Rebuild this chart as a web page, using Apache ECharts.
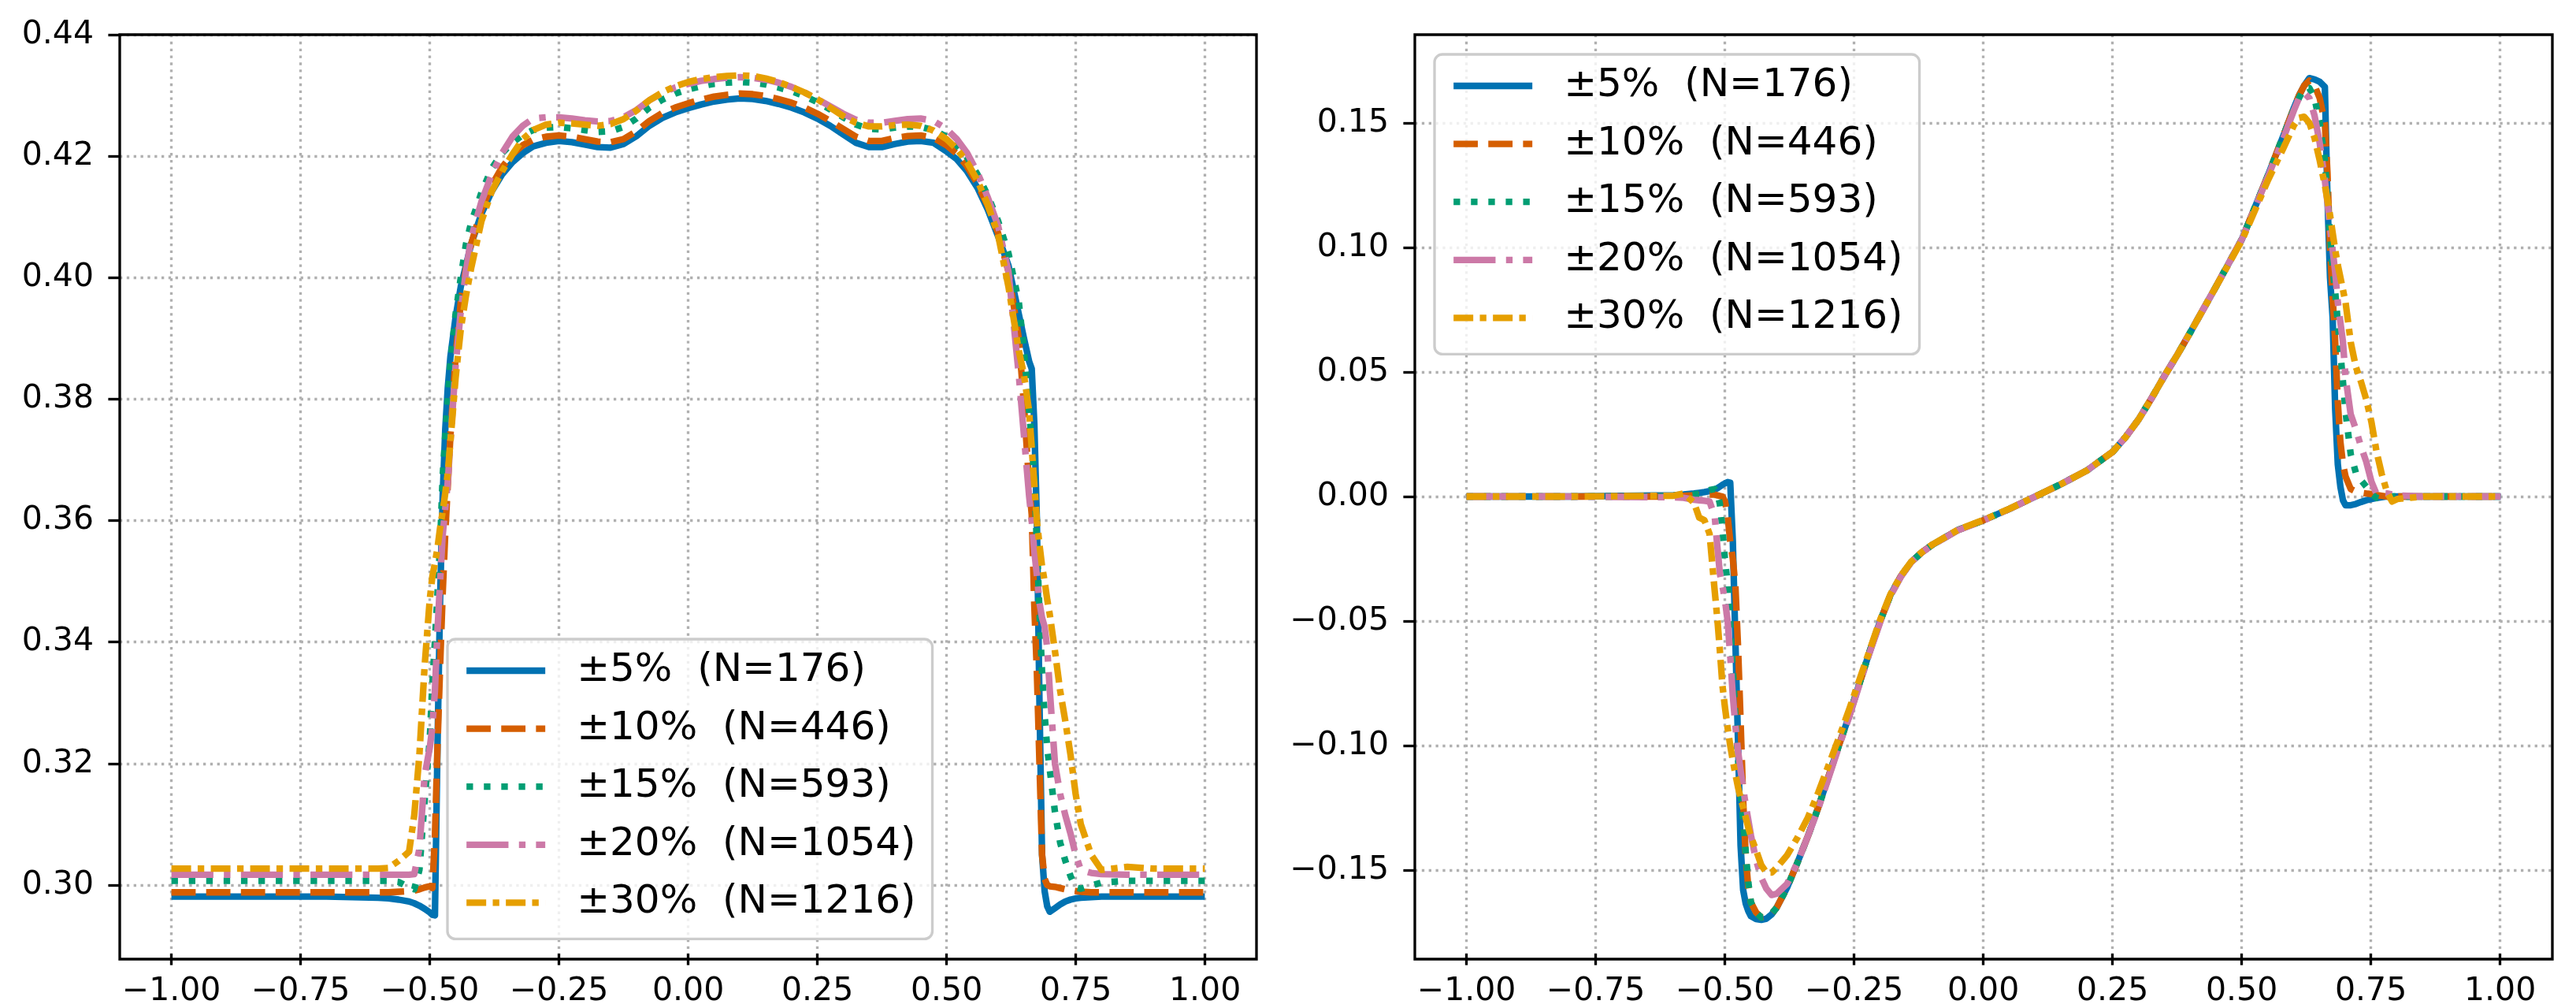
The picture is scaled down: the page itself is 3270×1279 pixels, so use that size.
<!DOCTYPE html>
<html>
<head>
<meta charset="utf-8">
<title>profiles</title>
<script src="https://cdn.jsdelivr.net/npm/echarts@6/dist/echarts.min.js"></script>
<style>
  html, body { margin: 0; padding: 0; background: #fff; }
  #main { width: 3270px; height: 1279px; }
</style>
</head>
<body>
<div id="main"></div>
<script>
// legend labels
var names = ['±5%  (N=176)', '±10%  (N=446)', '±15%  (N=593)', '±20%  (N=1054)', '±30%  (N=1216)'];

// left panel
var leftX = [-1.0, -0.9, -0.8, -0.7, -0.65, -0.6, -0.58, -0.56, -0.54, -0.53,
  -0.52, -0.51, -0.50, -0.495, -0.49, -0.485, -0.48, -0.475, -0.47, -0.465,
  -0.46, -0.45, -0.44, -0.43, -0.42, -0.40, -0.38, -0.36, -0.34, -0.32,
  -0.30, -0.275, -0.25, -0.225, -0.20, -0.175, -0.15, -0.125, -0.10, -0.075,
  -0.05, -0.025, 0.0, 0.025, 0.05, 0.075, 0.10, 0.125, 0.15, 0.175,
  0.20, 0.225, 0.25, 0.275, 0.30, 0.325, 0.35, 0.375, 0.40, 0.425,
  0.45, 0.475, 0.50, 0.52, 0.54, 0.56, 0.58, 0.60, 0.62, 0.64,
  0.65, 0.66, 0.665, 0.67, 0.675, 0.68, 0.685, 0.69, 0.695, 0.70,
  0.71, 0.72, 0.73, 0.74, 0.75, 0.76, 0.78, 0.80, 0.85, 0.90, 1.0];

var left5 = [0.2981, 0.2981, 0.2981, 0.2981, 0.2980, 0.2979, 0.2978, 0.2976, 0.2973, 0.2970,
  0.2966, 0.2961, 0.2955, 0.2951, 0.2950, 0.3230, 0.3470, 0.3640, 0.3750, 0.3820,
  0.3870, 0.3935, 0.3985, 0.4020, 0.4055, 0.4105, 0.4142, 0.4170, 0.4190, 0.4205,
  0.4216, 0.4222, 0.4225, 0.4223, 0.4219, 0.4215, 0.4214, 0.4220, 0.4233, 0.4250,
  0.4263, 0.4272, 0.4279, 0.4285, 0.4290, 0.4293, 0.4295, 0.4294, 0.4291, 0.4286,
  0.4280, 0.4272, 0.4262, 0.4250, 0.4236, 0.4222, 0.4215, 0.4215, 0.4220, 0.4224,
  0.4225, 0.4222, 0.4208, 0.4195, 0.4175, 0.4148, 0.4112, 0.4068, 0.4020, 0.3940,
  0.3900, 0.3862, 0.3850, 0.3760, 0.3600, 0.3300, 0.3050, 0.2990, 0.2965, 0.2956,
  0.2962, 0.2968, 0.2973, 0.2976, 0.2978, 0.2979, 0.2980, 0.2981, 0.2981, 0.2981, 0.2981];

var left10 = [0.2988, 0.2988, 0.2988, 0.2988, 0.2988, 0.2988, 0.2988, 0.2989, 0.2990, 0.2991,
  0.2993, 0.2996, 0.2998, 0.2995, 0.3080, 0.3230, 0.3360, 0.3480, 0.3580, 0.3660,
  0.3740, 0.3870, 0.3960, 0.4015, 0.4055, 0.4112, 0.4152, 0.4182, 0.4203, 0.4218,
  0.4227, 0.4232, 0.4234, 0.4232, 0.4228, 0.4224, 0.4223, 0.4228, 0.4241, 0.4258,
  0.4271, 0.4280, 0.4287, 0.4293, 0.4298, 0.4301, 0.4303, 0.4302, 0.4299, 0.4294,
  0.4288, 0.4280, 0.4270, 0.4258, 0.4245, 0.4232, 0.4225, 0.4225, 0.4230, 0.4233,
  0.4234, 0.4230, 0.4218, 0.4204, 0.4183, 0.4155, 0.4118, 0.4073, 0.4010, 0.3900,
  0.3790, 0.3660, 0.3610, 0.3460, 0.3350, 0.3200, 0.3050, 0.3010, 0.3000, 0.2998,
  0.2997, 0.2995, 0.2993, 0.2991, 0.2990, 0.2989, 0.2988, 0.2988, 0.2988, 0.2988, 0.2988];

var left15 = [0.3007, 0.3007, 0.3007, 0.3007, 0.3007, 0.3007, 0.3007, 0.3005, 0.2996, 0.2993,
  0.3025, 0.3139, 0.3240, 0.3330, 0.3401, 0.3480, 0.3560, 0.3673, 0.3740, 0.3800,
  0.3860, 0.3940, 0.4000, 0.4055, 0.4090, 0.4140, 0.4180, 0.4205, 0.4222, 0.4235,
  0.4243, 0.4247, 0.4248, 0.4246, 0.4243, 0.4240, 0.4241, 0.4248, 0.4262, 0.4280,
  0.4293, 0.4303, 0.4310, 0.4315, 0.4319, 0.4321, 0.4322, 0.4321, 0.4318, 0.4313,
  0.4307, 0.4299, 0.4289, 0.4277, 0.4264, 0.4252, 0.4245, 0.4244, 0.4247, 0.4249,
  0.4248, 0.4243, 0.4232, 0.4218, 0.4198, 0.4170, 0.4135, 0.4093, 0.4040, 0.3960,
  0.3880, 0.3780, 0.3730, 0.3670, 0.3560, 0.3450, 0.3350, 0.3280, 0.3225, 0.3190,
  0.3120, 0.3070, 0.3040, 0.3015, 0.2996, 0.2994, 0.2999, 0.3004, 0.3007, 0.3007, 0.3007];

var left20 = [0.3017, 0.3017, 0.3017, 0.3017, 0.3017, 0.3017, 0.3017, 0.3017, 0.3017, 0.3018,
  0.3060, 0.3180, 0.3226, 0.3260, 0.3320, 0.3420, 0.3500, 0.3576, 0.3620, 0.3665,
  0.3730, 0.3855, 0.3945, 0.4010, 0.4065, 0.4125, 0.4170, 0.4205, 0.4232, 0.4250,
  0.4262, 0.4264, 0.4264, 0.4262, 0.4259, 0.4257, 0.4258, 0.4264, 0.4276, 0.4292,
  0.4304, 0.4313, 0.4319, 0.4324, 0.4327, 0.4329, 0.4330, 0.4329, 0.4326, 0.4321,
  0.4314, 0.4305, 0.4294, 0.4282, 0.4270, 0.4260, 0.4255, 0.4255, 0.4258, 0.4261,
  0.4262, 0.4258, 0.4245, 0.4228, 0.4205, 0.4173, 0.4132, 0.4085, 0.4010, 0.3840,
  0.3740, 0.3640, 0.3600, 0.3550, 0.3510, 0.3465, 0.3440, 0.3425, 0.3390, 0.3320,
  0.3200, 0.3150, 0.3115, 0.3085, 0.3050, 0.3025, 0.3020, 0.3018, 0.3017, 0.3017, 0.3017];

var left30 = [0.3027, 0.3027, 0.3027, 0.3027, 0.3027, 0.3027, 0.3028, 0.3040, 0.3055, 0.3115,
  0.3215, 0.3360, 0.3470, 0.3508, 0.3530, 0.3555, 0.3588, 0.3615, 0.3645, 0.3680,
  0.3730, 0.3835, 0.3915, 0.3970, 0.4015, 0.4093, 0.4142, 0.4175, 0.4203, 0.4228,
  0.4243, 0.4252, 0.4255, 0.4254, 0.4252, 0.4250, 0.4253, 0.4261, 0.4275, 0.4292,
  0.4305, 0.4315, 0.4322, 0.4327, 0.4330, 0.4332, 0.4333, 0.4332, 0.4328, 0.4322,
  0.4314, 0.4305, 0.4294, 0.4280, 0.4266, 0.4255, 0.4249, 0.4249, 0.4251, 0.4252,
  0.4250, 0.4242, 0.4228, 0.4212, 0.4190, 0.4160, 0.4120, 0.4070, 0.3985, 0.3880,
  0.3840, 0.3780, 0.3720, 0.3660, 0.3600, 0.3560, 0.3525, 0.3500, 0.3470, 0.3445,
  0.3385, 0.3320, 0.3270, 0.3215, 0.3150, 0.3100, 0.3050, 0.3025, 0.3030, 0.3027, 0.3027];

// right panel
var rightX = [-1.0, -0.8, -0.6, -0.58, -0.56, -0.55, -0.54, -0.53, -0.52, -0.515,
  -0.51, -0.505, -0.50, -0.495, -0.49, -0.485, -0.48, -0.475, -0.47, -0.465,
  -0.46, -0.455, -0.45, -0.44, -0.43, -0.42, -0.41, -0.40, -0.38, -0.36,
  -0.34, -0.32, -0.30, -0.28, -0.26, -0.24, -0.22, -0.20, -0.18, -0.16,
  -0.14, -0.12, -0.10, -0.05, 0.0, 0.05, 0.10, 0.15, 0.20, 0.25,
  0.275, 0.30, 0.325, 0.35, 0.375, 0.40, 0.45, 0.50, 0.55, 0.58, 0.60, 0.61, 0.62,
  0.63, 0.64, 0.65, 0.66, 0.665, 0.67, 0.675, 0.68, 0.685, 0.69,
  0.695, 0.70, 0.71, 0.72, 0.73, 0.74, 0.75, 0.76, 0.77, 0.78,
  0.79, 0.80, 0.85, 0.90, 1.0];

var right5 = [0.0000, 0.0000, 0.0005, 0.0008, 0.0012, 0.0015, 0.0018, 0.0022, 0.0028, 0.0033,
  0.0040, 0.0047, 0.0053, 0.0058, 0.0055, -0.0180, -0.0580, -0.0980, -0.1400, -0.1580,
  -0.1635, -0.1665, -0.1685, -0.1697, -0.1700, -0.1695, -0.1678, -0.1650, -0.1570, -0.1470,
  -0.1365, -0.1250, -0.1125, -0.1000, -0.0880, -0.0750, -0.0620, -0.0500, -0.0395, -0.0320,
  -0.0263, -0.0225, -0.0195, -0.0135, -0.0095, -0.0050, 0.0000, 0.0050, 0.0105, 0.0180,
  0.0240, 0.0310, 0.0395, 0.0485, 0.0570, 0.0660, 0.0845, 0.1035, 0.1290, 0.1450, 0.1560, 0.1610, 0.1650,
  0.1680, 0.1675, 0.1665, 0.1645, 0.1200, 0.0880, 0.0720, 0.0350, 0.0130, 0.0040,
  -0.0015, -0.0035, -0.0035, -0.0030, -0.0022, -0.0015, -0.0010, -0.0006, -0.0003, 0.0000,
  0.0000, 0.0000, 0.0000, 0.0000, 0.0000];

var right10 = [0.0000, 0.0000, 0.0000, 0.0003, 0.0005, 0.0006, 0.0007, 0.0008, 0.0008, 0.0005,
  0.0002, 0.0000, -0.0020, -0.0080, -0.0180, -0.0250, -0.0360, -0.0600, -0.0900, -0.1220,
  -0.1450, -0.1570, -0.1630, -0.1670, -0.1690, -0.1688, -0.1675, -0.1650, -0.1570, -0.1470,
  -0.1365, -0.1250, -0.1125, -0.1000, -0.0880, -0.0750, -0.0620, -0.0500, -0.0395, -0.0320,
  -0.0263, -0.0225, -0.0195, -0.0135, -0.0095, -0.0050, 0.0000, 0.0050, 0.0105, 0.0180,
  0.0240, 0.0310, 0.0395, 0.0485, 0.0570, 0.0660, 0.0845, 0.1035, 0.1290, 0.1450, 0.1560, 0.1610, 0.1650,
  0.1670, 0.1650, 0.1600, 0.1500, 0.1300, 0.1000, 0.0800, 0.0620, 0.0380, 0.0220,
  0.0130, 0.0080, 0.0030, 0.0020, 0.0015, 0.0012, 0.0010, 0.0006, 0.0003, 0.0000,
  0.0000, 0.0000, 0.0000, 0.0000, 0.0000];

var right15 = [0.0000, 0.0000, 0.0000, 0.0003, 0.0008, 0.0012, 0.0018, 0.0026, 0.0030, 0.0015,
  -0.0030, -0.0130, -0.0260, -0.0350, -0.0530, -0.0690, -0.0890, -0.1050, -0.1180, -0.1300,
  -0.1430, -0.1550, -0.1630, -0.1670, -0.1690, -0.1688, -0.1675, -0.1650, -0.1570, -0.1470,
  -0.1365, -0.1250, -0.1125, -0.1000, -0.0880, -0.0750, -0.0620, -0.0500, -0.0395, -0.0320,
  -0.0263, -0.0225, -0.0195, -0.0135, -0.0095, -0.0050, 0.0000, 0.0050, 0.0105, 0.0180,
  0.0240, 0.0310, 0.0395, 0.0485, 0.0570, 0.0660, 0.0845, 0.1035, 0.1290, 0.1450, 0.1555, 0.1600, 0.1640,
  0.1640, 0.1600, 0.1500, 0.1350, 0.1200, 0.1050, 0.0920, 0.0820, 0.0700, 0.0580,
  0.0460, 0.0340, 0.0170, 0.0095, 0.0065, 0.0040, 0.0010, -0.0005, -0.0010, -0.0005,
  0.0000, 0.0000, 0.0000, 0.0000, 0.0000];

var right20 = [0.0000, 0.0000, -0.0003, -0.0005, -0.0013, -0.0015, -0.0017, -0.0020, -0.0080, -0.0200,
  -0.0310, -0.0360, -0.0420, -0.0500, -0.0640, -0.0800, -0.0920, -0.1020, -0.1100, -0.1170,
  -0.1240, -0.1300, -0.1360, -0.1460, -0.1530, -0.1575, -0.1600, -0.1595, -0.1555, -0.1470,
  -0.1365, -0.1255, -0.1130, -0.1005, -0.0885, -0.0755, -0.0625, -0.0505, -0.0398, -0.0322,
  -0.0264, -0.0226, -0.0196, -0.0136, -0.0096, -0.0050, 0.0000, 0.0050, 0.0105, 0.0180,
  0.0240, 0.0310, 0.0395, 0.0485, 0.0570, 0.0660, 0.0845, 0.1035, 0.1285, 0.1440, 0.1550, 0.1600, 0.1620,
  0.1600, 0.1530, 0.1420, 0.1270, 0.1180, 0.1080, 0.0990, 0.0900, 0.0780, 0.0700,
  0.0620, 0.0480, 0.0330, 0.0270, 0.0200, 0.0140, 0.0060, 0.0010, 0.0014, 0.0012,
  0.0008, 0.0004, 0.0000, 0.0000, 0.0000];

var right30 = [0.0000, 0.0000, 0.0003, 0.0012, -0.0025, -0.0085, -0.0095, -0.0150, -0.0380, -0.0490,
  -0.0620, -0.0760, -0.0850, -0.0930, -0.1000, -0.1060, -0.1115, -0.1167, -0.1210, -0.1250,
  -0.1290, -0.1330, -0.1365, -0.1420, -0.1480, -0.1510, -0.1510, -0.1490, -0.1440, -0.1370,
  -0.1290, -0.1190, -0.1080, -0.0970, -0.0855, -0.0735, -0.0615, -0.0495, -0.0392, -0.0318,
  -0.0262, -0.0224, -0.0194, -0.0134, -0.0094, -0.0049, 0.0000, 0.0050, 0.0105, 0.0180,
  0.0240, 0.0310, 0.0395, 0.0485, 0.0570, 0.0660, 0.0845, 0.1030, 0.1270, 0.1400, 0.1490, 0.1520, 0.1525,
  0.1500, 0.1440, 0.1350, 0.1250, 0.1190, 0.1130, 0.1060, 0.0990, 0.0930, 0.0880,
  0.0830, 0.0780, 0.0620, 0.0520, 0.0460, 0.0390, 0.0300, 0.0180, 0.0090, 0.0020,
  -0.0020, -0.0010, 0.0000, 0.0000, 0.0000];

var leftSeries = [left5, left10, left15, left20, left30];
var rightSeries = [right5, right10, right15, right20, right30];

var colors = ['#0072B2', '#D55E00', '#009E73', '#CC79A7', '#E69F00'];
var LW = 8.33;
// matplotlib '-', '--', ':', '-.', (0,(3,1,1,1)) scaled by line width
var dashes = ['solid', [30.8, 13.3], [8.33, 13.75], [53.3, 13.3, 8.33, 13.3], [25, 8.33, 8.33, 8.33]];

function fmt(v) {
  if (Math.abs(v) < 1e-9) v = 0;
  return v.toFixed(2).replace('-', '\u2212');
}

function pairs(xs, ys) {
  return xs.map(function (x, k) { return [x, ys[k]]; });
}

function makeSeries(xs, ys, i, axisIdx) {
  return {
    name: names[i],
    type: 'line',
    xAxisIndex: axisIdx,
    yAxisIndex: axisIdx,
    data: pairs(xs, ys),
    symbol: 'none',
    showSymbol: false,
    clip: false,
    silent: true,
    lineStyle: { color: colors[i], width: LW, type: dashes[i], join: 'round', cap: 'butt' },
    itemStyle: { color: colors[i] },
    emphasis: { disabled: true }
  };
}

var FONT = 'DejaVu Sans';
var tick = { show: true, length: 14.6, lineStyle: { color: '#000', width: 3.33 } };
var gridLine = { show: true, lineStyle: { color: '#b0b0b0', width: 3.33, type: [3.33, 5.5] } };
var labelX = { fontFamily: FONT, fontSize: 41, color: '#000', margin: 28, formatter: fmt };
var labelY = { fontFamily: FONT, fontSize: 41, color: '#000', margin: 33, formatter: fmt };
var noLine = { show: false, onZero: false };

function hidden(idx, mn, mx) {
  return { gridIndex: idx, type: 'value', min: mn, max: mx, show: false, axisLine: { onZero: false } };
}

var legendCommon = {
  orient: 'vertical',
  data: names,
  itemWidth: 100,
  itemHeight: 50,
  itemGap: 23.6,
  padding: [15, 21, 21, 20],
  backgroundColor: 'rgba(255,255,255,0.8)',
  borderColor: '#cccccc',
  borderWidth: 3.33,
  borderRadius: 10,
  selectedMode: false,
  itemStyle: { color: 'rgba(0,0,0,0)', borderColor: 'rgba(0,0,0,0)', borderWidth: 0 },
  lineStyle: { width: LW },
  textStyle: { fontFamily: FONT, fontSize: 50, color: '#000', lineHeight: 50, padding: [0, 0, 0, 35] }
};

var series = [];
for (var i = 0; i < 5; i++) series.push(makeSeries(leftX, leftSeries[i], i, 2));
for (var j = 0; j < 5; j++) series.push(makeSeries(rightX, rightSeries[j], j, 5));

var option = {
  animation: false,
  backgroundColor: '#fff',
  textStyle: { fontFamily: FONT },
  grid: [
    // left frame, left x-ticks area, left data area
    { left: 152, top: 44, width: 1443, height: 1173, show: true, borderColor: '#000', borderWidth: 3.33, backgroundColor: 'transparent', z: 3 },
    { left: 217.6, top: 44, width: 1312, height: 1173 },
    { left: 152, top: 44, width: 1443, height: 1079 },
    // right frame, right x-ticks area, right data area
    { left: 1796, top: 44, width: 1444, height: 1173, show: true, borderColor: '#000', borderWidth: 3.33, backgroundColor: 'transparent', z: 3 },
    { left: 1861.6, top: 44, width: 1312, height: 1173 },
    { left: 1796, top: 156, width: 1444, height: 948 }
  ],
  xAxis: [
    hidden(0, 0, 1),
    { gridIndex: 1, type: 'value', position: 'bottom', min: -1, max: 1, interval: 0.25, axisLine: noLine, axisTick: tick, axisLabel: labelX, splitLine: gridLine },
    hidden(2, -1.1, 1.1),
    hidden(3, 0, 1),
    { gridIndex: 4, type: 'value', position: 'bottom', min: -1, max: 1, interval: 0.25, axisLine: noLine, axisTick: tick, axisLabel: labelX, splitLine: gridLine },
    hidden(5, -1.1, 1.1)
  ],
  yAxis: [
    hidden(0, 0, 1),
    hidden(1, 0, 1),
    { gridIndex: 2, type: 'value', position: 'left', min: 0.30, max: 0.44, interval: 0.02, axisLine: noLine, axisTick: tick, axisLabel: labelY, splitLine: gridLine },
    hidden(3, 0, 1),
    hidden(4, 0, 1),
    { gridIndex: 5, type: 'value', position: 'left', min: -0.15, max: 0.15, interval: 0.05, axisLine: noLine, axisTick: tick, axisLabel: labelY, splitLine: gridLine }
  ],
  legend: [
    Object.assign({ left: 568, top: 811 }, legendCommon),
    Object.assign({ left: 1821, top: 69 }, legendCommon)
  ],
  series: series
};

var chart = echarts.init(document.getElementById('main'), null, { renderer: 'canvas' });
chart.setOption(option);
</script>
</body>
</html>
